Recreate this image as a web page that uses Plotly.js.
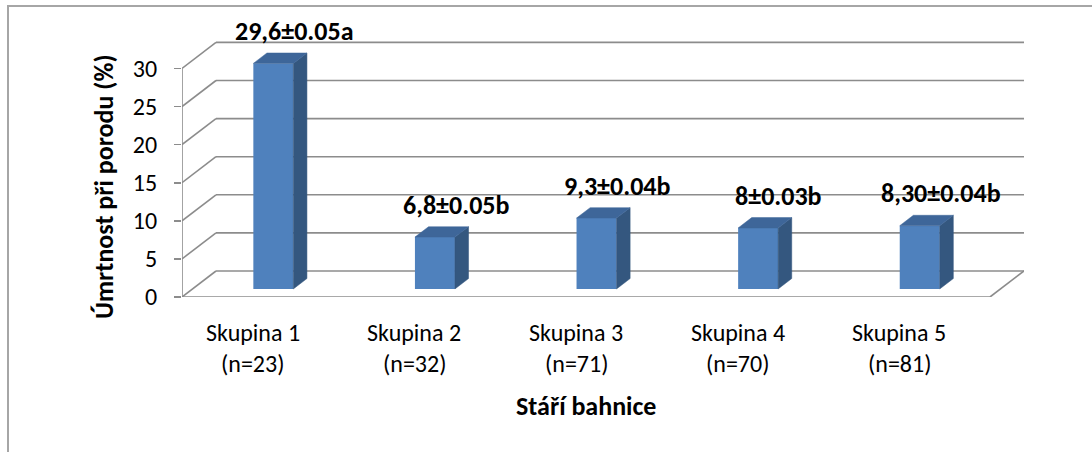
<!DOCTYPE html>
<html><head><meta charset="utf-8">
<script src="https://cdn.plot.ly/plotly-3.0.1.min.js"></script>
<style>
html,body{margin:0;padding:0;background:#fff;overflow:hidden}
#frame{position:absolute;left:7px;top:5px;width:1200px;height:600px;border-top:2px solid #a6a6a6;border-left:2px solid #a6a6a6}
#chart{position:absolute;left:0;top:0;width:1092px;height:452px}
</style></head><body>
<div id="frame"></div><div id="chart"></div>
<script>
// ---- data ----
const groups = ["Skupina 1", "Skupina 2", "Skupina 3", "Skupina 4", "Skupina 5"];
const counts = ["(n=23)", "(n=32)", "(n=71)", "(n=70)", "(n=81)"];
const mortality = [29.6, 6.8, 9.3, 8, 8.3];
const valueLabels = ["29,6±0.05a", "6,8±0.05b", "9,3±0.04b", "8±0.03b", "8,30±0.04b"];
const yTicks = [0, 5, 10, 15, 20, 25, 30];
const yTitle = "Úmrtnost při porodu (%)";
const xTitle = "Stáří bahnice";

// ---- geometry (pixels -> data units) ----
const W = 1092, H = 452;
const L = 182, R = 1024, T = 8, B = 297;
const SLOT = 161.6, KY = 7.62;
const dxu = 34 / SLOT, dyu = 26 / KY;
const f0 = 0.31, f1 = 0.71;
const wu = 40 / SLOT;
const xr = [-0.5, -0.5 + (R - L) / SLOT];
const yr = [0, (B - T) / KY];
const n = groups.length;
const FONT = 'Carlito, Lato, "Noto Sans", sans-serif';
const gridCol = '#8c8c8c';

const shapes = [];
function line(x0, y0, x1, y1, layer) {
  shapes.push({type: 'line', xref: 'x', yref: 'y', x0, y0, x1, y1, layer: layer || 'below',
    line: {color: gridCol, width: 1.6}});
}
yTicks.forEach(v => {
  line(-0.5 + dxu, v + dyu, n - 0.5 + dxu, v + dyu);
  line(-0.5, v, -0.5 + dxu, v + dyu);
});
line(-0.5, 0, -0.5, yTicks[yTicks.length - 1]);
line(-0.5, 0, n - 0.5, 0);
line(n - 0.5, 0, n - 0.5 + dxu, dyu);

const barX = mortality.map((_, i) => i + f0 * dxu);
const base0 = f0 * dyu;
const ddx = (f1 - f0) * dxu, ddy = (f1 - f0) * dyu;
function poly(pts, fill) {
  shapes.push({type: 'path', xref: 'x', yref: 'y', layer: 'above',
    path: 'M' + pts.map(p => p[0] + ',' + p[1]).join(' L') + ' Z',
    fillcolor: fill, line: {width: 0.5, color: fill}});
}
mortality.forEach((v, i) => {
  const l = barX[i] - wu / 2, r = barX[i] + wu / 2, top = base0 + v;
  poly([[r, base0], [r + ddx, base0 + ddy], [r + ddx, top + ddy], [r, top]], '#34577f');
  poly([[l, top], [r, top], [r + ddx, top + ddy], [l + ddx, top + ddy]], '#3e6699');
});

const annotations = [];
mortality.forEach((v, i) => {
  annotations.push({xref: 'x', yref: 'y', x: barX[i] + ddx / 2, y: base0 + v + ddy,
    xanchor: 'center', yanchor: 'bottom', xshift: 14, yshift: 4, showarrow: false,
    text: valueLabels[i], font: {family: FONT, size: 26, color: '#000', weight: 'bold'}});
});
groups.forEach((g, i) => {
  annotations.push({xref: 'x', yref: 'y', x: i, y: 0, xanchor: 'center', yanchor: 'top',
    xshift: -10, yshift: -19, showarrow: false, text: g, font: {family: FONT, size: 24, color: '#000'}});
  annotations.push({xref: 'x', yref: 'y', x: i, y: 0, xanchor: 'center', yanchor: 'top',
    xshift: -10, yshift: -50, showarrow: false, text: counts[i], font: {family: FONT, size: 24, color: '#000'}});
});
annotations.push({xref: 'x', yref: 'y', x: (n - 1) / 2, y: 0, xanchor: 'center', yanchor: 'top',
  yshift: -91, showarrow: false, text: xTitle, font: {family: FONT, size: 26, color: '#000', weight: 'bold'}});
annotations.push({xref: 'x', yref: 'y', x: -0.5, y: (B - 187) / KY, xanchor: 'center', yanchor: 'middle',
  xshift: -78, textangle: -90, showarrow: false, text: yTitle,
  font: {family: FONT, size: 26, color: '#000', weight: 'bold'}});

const trace = {
  type: 'bar', x: barX, y: mortality, base: mortality.map(() => base0), width: wu,
  marker: {color: '#4f81bd', line: {width: 0}}, hoverinfo: 'skip', cliponaxis: false
};

const layout = {
  width: W, height: H, showlegend: false,
  margin: {l: L, r: W - R, t: T, b: H - B, pad: 0},
  paper_bgcolor: 'rgba(0,0,0,0)', plot_bgcolor: 'rgba(0,0,0,0)',
  xaxis: {range: xr, showgrid: false, zeroline: false, showline: false, showticklabels: false, ticks: '', fixedrange: true},
  yaxis: {range: yr, tickvals: yTicks, ticktext: yTicks.map(String), showgrid: false, zeroline: false, showline: false,
    ticks: 'outside', ticklen: 7, tickwidth: 1.6, tickcolor: gridCol, ticklabelstandoff: 12,
    tickfont: {family: FONT, size: 24, color: '#000'}, fixedrange: true},
  shapes, annotations, font: {family: FONT}
};
Plotly.newPlot('chart', [trace], layout, {displayModeBar: false, staticPlot: true});
</script>
</body></html>
